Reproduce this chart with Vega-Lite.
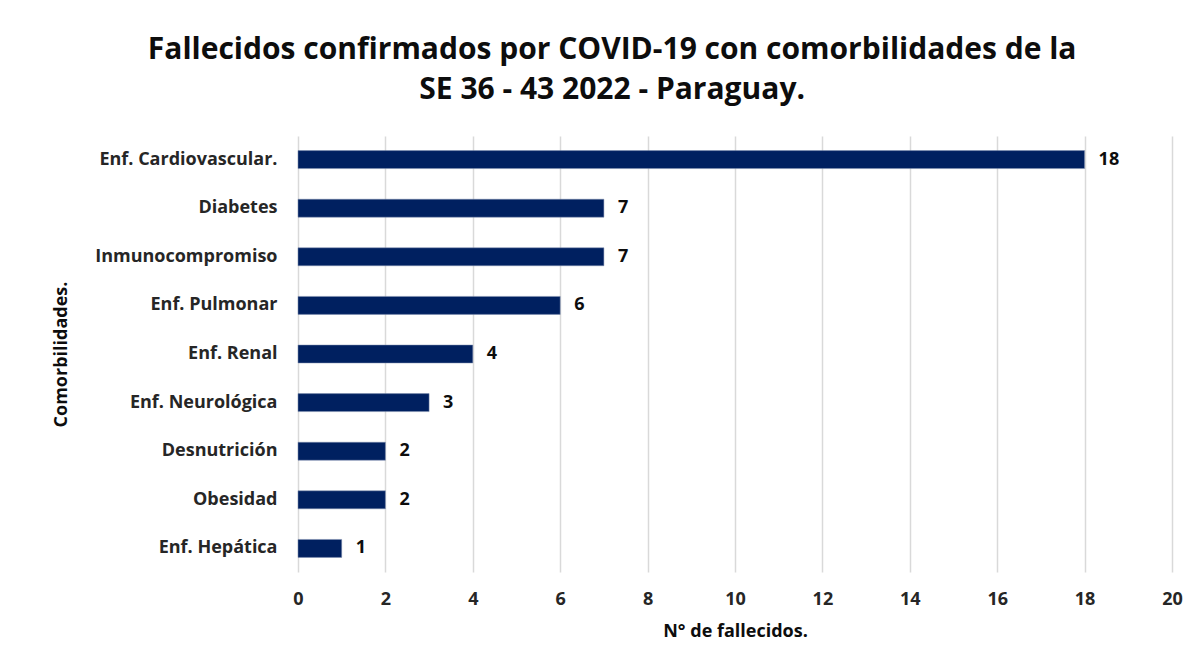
{
  "$schema": "https://vega.github.io/schema/vega-lite/v6.json",
  "autosize": "none",
  "width": 874,
  "height": 436,
  "padding": {"left": 298, "top": 136, "right": 30, "bottom": 93},
  "background": "white",
  "title": {
    "text": ["Fallecidos confirmados por COVID-19 con comorbilidades de la", "SE 36 - 43 2022 - Paraguay."],
    "font": "Open Sans",
    "fontSize": 30,
    "fontWeight": "bold",
    "color": "#0d0d0d",
    "anchor": "middle",
    "frame": "bounds",
    "lineHeight": 40,
    "offset": 31,
    "dx": -5
  },
  "data": {
    "values": [
      {"comorbilidad": "Enf. Cardiovascular.", "fallecidos": 18},
      {"comorbilidad": "Diabetes", "fallecidos": 7},
      {"comorbilidad": "Inmunocompromiso", "fallecidos": 7},
      {"comorbilidad": "Enf. Pulmonar", "fallecidos": 6},
      {"comorbilidad": "Enf. Renal", "fallecidos": 4},
      {"comorbilidad": "Enf. Neurológica", "fallecidos": 3},
      {"comorbilidad": "Desnutrición", "fallecidos": 2},
      {"comorbilidad": "Obesidad", "fallecidos": 2},
      {"comorbilidad": "Enf. Hepática", "fallecidos": 1}
    ]
  },
  "encoding": {
    "y": {
      "field": "comorbilidad",
      "type": "nominal",
      "sort": null,
      "scale": {"paddingInner": 0.63, "paddingOuter": 0.3},
      "axis": {
        "title": "Comorbilidades.",
        "titleFont": "Open Sans",
        "titleFontSize": 18,
        "titleFontWeight": "bold",
        "titleColor": "#0d0d0d",
        "titlePadding": 28,
        "labelFont": "Open Sans",
        "labelFontSize": 18,
        "labelFontWeight": "bold",
        "labelColor": "#262626",
        "labelPadding": 21,
        "labelLimit": 400,
        "ticks": false,
        "domain": false,
        "grid": false
      }
    },
    "x": {
      "field": "fallecidos",
      "type": "quantitative",
      "scale": {"domain": [0, 20]},
      "axis": {
        "title": "N° de fallecidos.",
        "titleFont": "Open Sans",
        "titleFontSize": 18,
        "titleFontWeight": "bold",
        "titleColor": "#0d0d0d",
        "titlePadding": 14,
        "labelFont": "Open Sans",
        "labelFontSize": 18,
        "labelFontWeight": "bold",
        "labelColor": "#262626",
        "labelPadding": 18,
        "labelFlush": false,
        "values": [0, 2, 4, 6, 8, 10, 12, 14, 16, 18, 20],
        "ticks": false,
        "domain": false,
        "grid": true,
        "gridColor": "#d9d9d9",
        "gridWidth": 1.5
      }
    }
  },
  "layer": [
    {"mark": {"type": "bar", "color": "#002060", "stroke": "#8090b0", "strokeWidth": 0.5}},
    {
      "mark": {"type": "text", "align": "left", "baseline": "middle", "dx": 14, "font": "Open Sans", "fontSize": 18, "fontWeight": "bold", "color": "#0d0d0d"},
      "encoding": {"text": {"field": "fallecidos", "type": "quantitative"}}
    }
  ],
  "config": {"view": {"stroke": null}}
}
